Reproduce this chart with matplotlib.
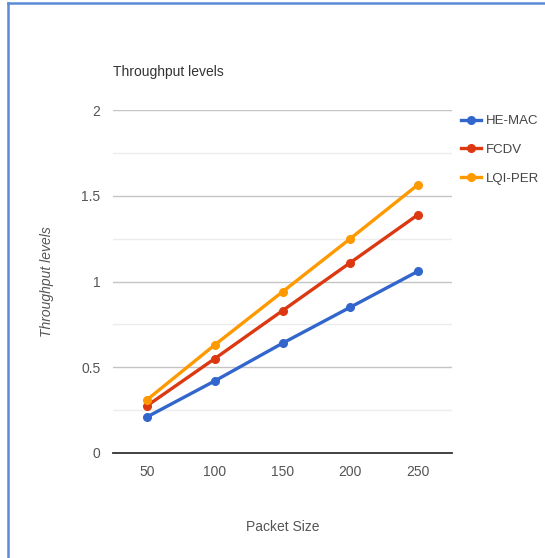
import matplotlib.pyplot as plt
from matplotlib.lines import Line2D
from matplotlib.ticker import MultipleLocator

plt.rcParams['font.family'] = ['Liberation Sans Narrow', 'Liberation Sans', 'DejaVu Sans']

packet_size = ['50', '100', '150', '200', '250']
he_mac = [0.21, 0.42, 0.64, 0.85, 1.06]
fcdv = [0.275, 0.55, 0.83, 1.11, 1.39]
lqi_per = [0.31, 0.63, 0.94, 1.25, 1.565]

series = [('HE-MAC', he_mac, '#3366cc'),
          ('FCDV', fcdv, '#dc3912'),
          ('LQI-PER', lqi_per, '#ff9900')]

fig = plt.figure(figsize=(5.45, 5.58), dpi=100)
ax = fig.add_axes([113 / 545, 1 - 453 / 558, 339 / 545, 343 / 558])

x = range(len(packet_size))
for name, vals, col in series:
    ax.plot(x, vals, color=col, lw=2.4, marker='o', ms=5.5, label=name)

ax.set_xlim(-0.5, len(packet_size) - 0.5)
ax.set_ylim(0, 2)
ax.set_xticks(list(x))
ax.set_xticklabels(packet_size)
ax.yaxis.set_major_locator(MultipleLocator(0.5))
ax.yaxis.set_minor_locator(MultipleLocator(0.25))
ax.set_yticks([0, 0.5, 1, 1.5, 2])
ax.set_yticklabels(['0', '0.5', '1', '1.5', '2'])
ax.grid(axis='y', which='major', color='#c4c4c4', lw=1)
ax.grid(axis='y', which='minor', color='#ececec', lw=1)
ax.set_axisbelow(True)
for s in ['top', 'right', 'left']:
    ax.spines[s].set_visible(False)
ax.spines['bottom'].set_color('#333333')
ax.spines['bottom'].set_linewidth(1.3)
ax.tick_params(axis='both', which='both', length=0, labelsize=10, colors='#555555')
ax.tick_params(axis='x', pad=9)
ax.tick_params(axis='y', pad=9)

ax.set_xlabel('Packet Size', fontsize=10, color='#555555')
ax.xaxis.set_label_coords(0.5, (453 - 520) / 343)
ax.set_ylabel('Throughput levels', fontsize=10, color='#555555', style='italic')
ax.yaxis.set_label_coords((47 - 113) / 339, 0.5)
ax.yaxis.label.set_va('center')
fig.text(113 / 545, 1 - 72 / 558, 'Throughput levels', fontsize=10, color='#333333',
         ha='left', va='center')

ax.legend(loc='upper left', bbox_to_anchor=(1.0, 1.012), frameon=False, fontsize=9.5,
          handlelength=1.5, handletextpad=0.4, labelspacing=1.25, borderaxespad=0.3,
          labelcolor='#444444')

# frame lines along the top and left edge
fig.add_artist(Line2D([8 / 545, 1], [1 - 2.5 / 558, 1 - 2.5 / 558], color='#5b8bd6', lw=1.8))
fig.add_artist(Line2D([8 / 545, 8 / 545], [0, 1 - 2.5 / 558], color='#5b8bd6', lw=1.8))

fig.savefig('out.png', dpi=100)
